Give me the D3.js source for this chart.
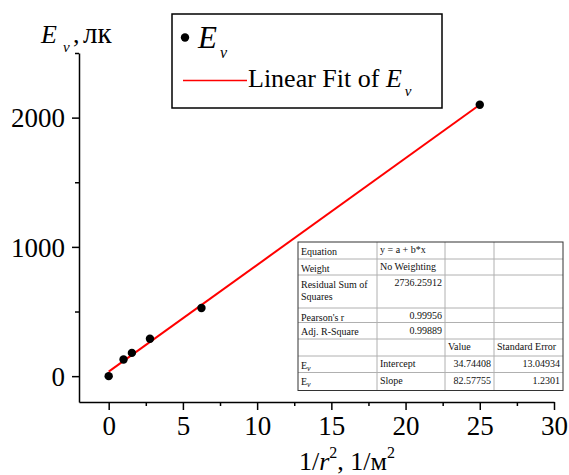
<!DOCTYPE html>
<html>
<head>
<meta charset="utf-8">
<script src="https://cdn.jsdelivr.net/npm/d3@7"></script>
<style>
  body { margin: 0; background: #fff; }
  svg { display: block; font-family: "Liberation Serif", "Times New Roman", serif; }
</style>
</head>
<body>
<div id="chart"></div>
<script>
// measured points: 1/r^2 vs illuminance
const xVals = [0, 1, 1.5625, 2.78, 6.25, 25]
const yVals = [0, 129, 180, 289, 527, 2100]

// linear fit from the report table
const fitIntercept = 34.74408
const fitSlope = 82.57755
const fitRange = [0, 25]

const xMajor = [0, 5, 10, 15, 20, 25, 30]
const xMinor = [2.5, 7.5, 12.5, 17.5, 22.5, 27.5]
const yMajor = [0, 1000, 2000]
const yMinor = [500, 1500, 2500]

// fit report table rows: [label, col2, col3, col4]
const tableRows = [
    ["Equation", "y = a + b*x", "", ""],
    ["Weight", "No Weighting", "", ""],
    ["Residual Sum of|Squares", "2736.25912", "", ""],
    ["Pearson's r", "0.99956", "", ""],
    ["Adj. R-Square", "0.99889", "", ""],
    ["", "", "Value", "Standard Error"],
    ["E_ν", "Intercept", "34.74408", "13.04934"],
    ["E_ν", "Slope", "82.57755", "1.2301"]
]

const width = 569, height = 475

const svg = d3.select("#chart").append("svg")
    .attr("width", width)
    .attr("height", height)

const xScale = d3.scaleLinear()
    .domain([-2, 30])
    .range([79, 554])

const yScale = d3.scaleLinear()
    .domain([-200, 2500])
    .range([402, 53])

// axes
const xAxis = svg.append("g")
    .attr("transform", "translate(0,402)")
    .call(d3.axisBottom(xScale).tickValues(xMajor).tickSize(8).tickPadding(6).tickSizeOuter(0))
xAxis.append("g")
    .call(d3.axisBottom(xScale).tickValues(xMinor).tickSize(4).tickFormat(""))
    .select(".domain").remove()

const yAxis = svg.append("g")
    .attr("transform", "translate(79,0)")
    .call(d3.axisLeft(yScale).tickValues(yMajor).tickFormat(d3.format("d")).tickSize(7).tickPadding(5).tickSizeOuter(0))
yAxis.append("g")
    .call(d3.axisLeft(yScale).tickValues(yMinor).tickSize(4).tickFormat(""))
    .select(".domain").remove()

svg.selectAll(".domain, .tick line")
    .attr("stroke", "#000")
    .attr("stroke-width", 1.5)

xAxis.selectAll(".tick text")
    .attr("font-size", 27)
    .attr("font-family", "Liberation Serif")
    .attr("fill", "#000")
    .attr("dy", "0.71em")

yAxis.selectAll(".tick text")
    .attr("font-size", 27)
    .attr("font-family", "Liberation Serif")
    .attr("fill", "#000")
    .attr("dx", "-2")
    .attr("dy", "0.34em")

// fit line
svg.append("line")
    .attr("x1", xScale(fitRange[0]))
    .attr("y1", yScale(fitIntercept + fitSlope * fitRange[0]))
    .attr("x2", xScale(fitRange[1]))
    .attr("y2", yScale(fitIntercept + fitSlope * fitRange[1]))
    .attr("stroke", "#ff0000")
    .attr("stroke-width", 2)

// points
svg.selectAll("circle.pt")
    .data(xVals.map((x, i) => [x, yVals[i]]))
    .join("circle")
    .attr("class", "pt")
    .attr("cx", d => xScale(d[0]))
    .attr("cy", d => yScale(d[1]))
    .attr("r", 4.2)
    .attr("fill", "#000")

// axis titles
const yTitle = svg.append("text")
    .attr("x", 41)
    .attr("y", 43)
    .attr("font-size", 25)
yTitle.append("tspan").attr("font-style", "italic").attr("font-size", 26).text("E")
yTitle.append("tspan").attr("font-style", "italic").attr("font-size", 15).attr("x", 63).attr("dy", 9).text("ν")
yTitle.append("tspan").attr("x", 73).attr("dy", -9).attr("font-size", 26).text(",")
yTitle.append("tspan").attr("x", 83).attr("font-size", 29).text("лк")

const xTitle = svg.append("text")
    .attr("x", 299)
    .attr("y", 470)
    .attr("font-size", 26)
xTitle.append("tspan").text("1/")
xTitle.append("tspan").attr("font-style", "italic").text("r")
xTitle.append("tspan").attr("font-size", 16).attr("dy", -12).text("2")
xTitle.append("tspan").attr("dy", 12).text(", 1/м")
xTitle.append("tspan").attr("font-size", 16).attr("dy", -12).text("2")

// legend
const legend = svg.append("g")
legend.append("rect")
    .attr("x", 172).attr("y", 14)
    .attr("width", 270).attr("height", 94)
    .attr("fill", "#fff")
    .attr("stroke", "#000")
    .attr("stroke-width", 1.5)
legend.append("circle")
    .attr("cx", 185).attr("cy", 37.5).attr("r", 4.2).attr("fill", "#000")
const leg1 = legend.append("text").attr("x", 198).attr("y", 48).attr("font-size", 31)
leg1.append("tspan").attr("font-style", "italic").text("E")
leg1.append("tspan").attr("font-style", "italic").attr("font-size", 16).attr("dx", 3).attr("dy", 10).text("ν")
legend.append("line")
    .attr("x1", 183).attr("x2", 247)
    .attr("y1", 80.5).attr("y2", 80.5)
    .attr("stroke", "#ff0000").attr("stroke-width", 1.5)
const leg2 = legend.append("text").attr("x", 248).attr("y", 87).attr("font-size", 26)
leg2.append("tspan").text("Linear Fit of ")
leg2.append("tspan").attr("font-style", "italic").text("E")
leg2.append("tspan").attr("font-style", "italic").attr("font-size", 15).attr("dx", 3).attr("dy", 9).text("ν")

// fit report table
const colX = [298, 377, 445, 494, 563]
const rowY = [242, 259, 275, 308, 322.5, 339, 356, 372.5, 390.5]
const table = svg.append("g").attr("font-size", 10).attr("fill", "#111")

table.append("rect")
    .attr("x", colX[0]).attr("y", rowY[0])
    .attr("width", colX[4] - colX[0]).attr("height", rowY[8] - rowY[0])
    .attr("fill", "#fff")

table.selectAll("line.h")
    .data(rowY.slice(1, -1))
    .join("line")
    .attr("x1", colX[0]).attr("x2", colX[4])
    .attr("y1", d => d).attr("y2", d => d)
    .attr("stroke", "#b0b0b0").attr("stroke-width", 1)
table.selectAll("line.v")
    .data(colX.slice(1, -1))
    .join("line")
    .attr("x1", d => d).attr("x2", d => d)
    .attr("y1", rowY[0]).attr("y2", rowY[8])
    .attr("stroke", "#b0b0b0").attr("stroke-width", 1)
table.append("rect")
    .attr("x", colX[0]).attr("y", rowY[0])
    .attr("width", colX[4] - colX[0]).attr("height", rowY[8] - rowY[0])
    .attr("fill", "none")
    .attr("stroke", "#333").attr("stroke-width", 1)

const isNum = s => /^[0-9.]+$/.test(s)

tableRows.forEach((row, r) => {
    const top = rowY[r]
    row.forEach((cell, c) => {
        if (!cell) return
        const num = isNum(cell)
        const t = table.append("text")
            .attr("x", num ? colX[c + 1] - 3 : colX[c] + 3)
            .attr("y", top + (c === 0 ? 12.5 : 11))
            .attr("text-anchor", num ? "end" : "start")
        if (cell.includes("|")) {
            const parts = cell.split("|")
            t.text(parts[0])
            table.append("text")
                .attr("x", colX[c] + 3)
                .attr("y", top + 24.5)
                .text(parts[1])
        } else if (cell.startsWith("E_")) {
            t.append("tspan").text("E")
            t.append("tspan").attr("font-size", 8).attr("font-style", "italic").attr("dy", 2).text(cell.slice(2))
        } else {
            t.text(cell)
        }
    })
})
</script>
</body>
</html>
